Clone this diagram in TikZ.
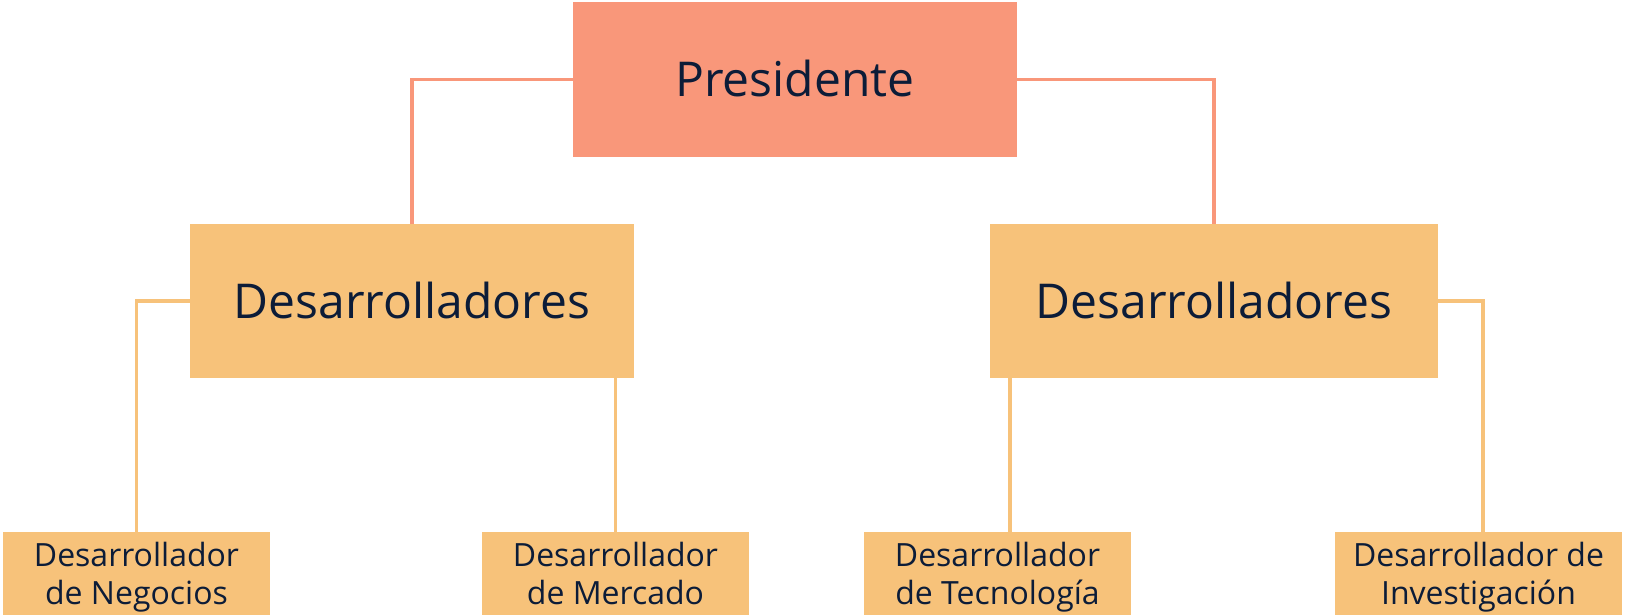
\documentclass[tikz,border=0pt]{standalone}
\usepackage{fontspec}
\setmainfont{Open Sans}

\definecolor{salmon}{HTML}{F9977A}
\definecolor{sand}{HTML}{F7C27A}
\definecolor{navy}{HTML}{0C1C38}

\tikzset{
  box/.style={inner sep=0pt,text=navy,align=center},
  boss/.style={box,fill=salmon,minimum width=444pt,minimum height=155pt,
    font=\fontsize{48pt}{58pt}\selectfont,text height=34.3pt,text depth=0pt},
  team/.style={box,fill=sand,minimum height=154pt,
    font=\fontsize{48pt}{58pt}\selectfont,text height=34.3pt,text depth=0pt},
  member/.style={box,fill=sand,anchor=north,inner ysep=10.7pt,
    font=\fontsize{32pt}{38pt}\selectfont,text height=62pt,text depth=8pt},
  bossline/.style={draw=salmon,line width=3.6pt},
  teamline/.style={draw=sand,line width=3.6pt}
}

\begin{document}
\begin{tikzpicture}[x=1pt,y=-1pt]
\useasboundingbox (0,0) rectangle (1625,615);

\node[boss] (pres) at (795,79.5) {Presidente};

\node[team,minimum width=444pt] (devL) at (412,301) {Desarrolladores};
\node[team,minimum width=448pt] (devR) at (1214,301) {Desarrolladores};

\node[member,minimum width=267pt] (neg) at (136.5,532) {Desarrollador\\de Negocios};
\node[member,minimum width=267pt] (merc) at (615.5,532) {Desarrollador\\de Mercado};
\node[member,minimum width=267pt] (tec) at (997.5,532) {Desarrollador\\de Tecnología};
\node[member,minimum width=287pt] (inv) at (1478.5,532) {Desarrollador de\\Investigación};

\draw[bossline] (pres.west) -| (devL.north);
\draw[bossline] (pres.east) -| (devR.north);

\draw[teamline] (devL.west) -| (neg.north);
\draw[teamline] (merc.north) -- (merc.north |- devL.south);
\draw[teamline] ([xshift=12.5pt]tec.north) -- ([xshift=12.5pt]tec.north |- devR.south);
\draw[teamline] (devR.east) -| ([xshift=4.5pt]inv.north);

\end{tikzpicture}
\end{document}
